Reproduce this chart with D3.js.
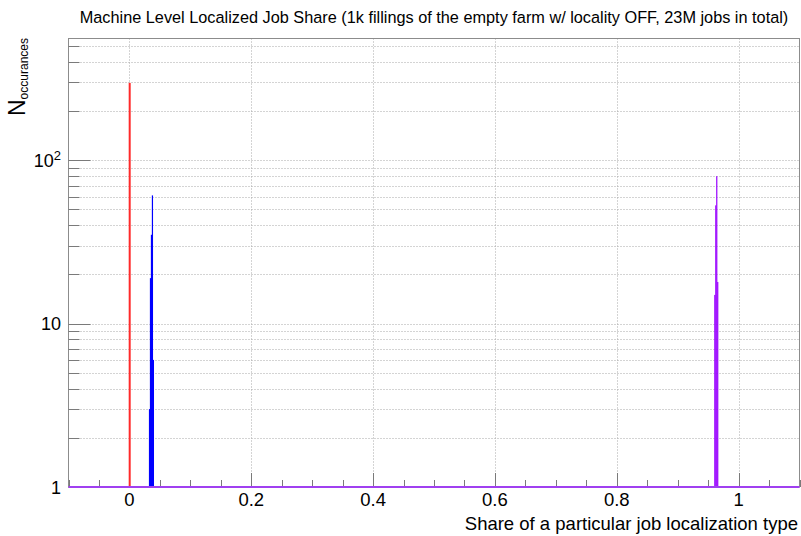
<!DOCTYPE html>
<html><head><meta charset="utf-8">
<script src="https://cdn.jsdelivr.net/npm/d3@7"></script>
<style>body{margin:0;background:#fff}svg{display:block;font-family:"Liberation Sans",Arial,sans-serif}</style>
</head><body><svg id="c" width="801" height="536"></svg>
<script>
const title = "Machine Level Localized Job Share (1k fillings of the empty farm w/ locality OFF, 23M jobs in total)";
const xTitle = "Share of a particular job localization type";
const binWidth = 0.0016;
// red series: bin low edges and counts
const redX = [-0.0012];
const redN = [298];
// blue series
const blueX = [0.0320, 0.0336, 0.0352, 0.0368, 0.0384];
const blueN = [3, 19, 35, 61, 6];
// violet series
const violetX = [0.9600, 0.9616, 0.9632, 0.9648];
const violetN = [15, 53, 80, 18];
const xTicks = [0, 0.2, 0.4, 0.6, 0.8, 1];
const xTickLabels = ["0", "0.2", "0.4", "0.6", "0.8", "1"];
const yMajor = [1, 10, 100];

const svg = d3.select("#c");
const L = 68.5, R = 799.5, T = 38.5, B = 487;
const x = d3.scaleLinear().domain([-0.1, 1.1]).range([L, R]);
const y = d3.scaleLog().domain([1, 557]).range([B, T]);

// grid
const yAll = [];
for (let d = 1; d <= 100; d *= 10) for (let k = 1; k <= 9; k++) { const v = d * k; if (v <= 557) yAll.push(v); }
const grid = svg.append("g").attr("stroke", "#a8a8a8").attr("stroke-dasharray", "1,2").attr("stroke-width", 1);
grid.selectAll("line.gy").data(yAll.filter(v => v > 1)).enter().append("line")
  .attr("x1", L).attr("x2", R).attr("y1", d => Math.round(y(d)) + 0.5).attr("y2", d => Math.round(y(d)) + 0.5);
grid.selectAll("line.gx").data(xTicks).enter().append("line")
  .attr("x1", d => Math.round(x(d)) + 0.5).attr("x2", d => Math.round(x(d)) + 0.5).attr("y1", T).attr("y2", B);

// frame
svg.append("rect").attr("x", L).attr("y", T).attr("width", R - L).attr("height", B - T)
  .attr("fill", "none").attr("stroke", "#8c8c8c").attr("stroke-width", 1);

// y ticks
const yt = svg.append("g").attr("stroke", "#7a7a7a").attr("stroke-width", 1);
yt.selectAll("line").data(yAll).enter().append("line")
  .attr("x1", L).attr("x2", d => L + (yMajor.includes(d) ? 22 : 11))
  .attr("y1", d => Math.round(y(d)) + 0.5).attr("y2", d => Math.round(y(d)) + 0.5);

// x ticks
const xMinor = d3.range(-0.1, 1.1001, 0.05).map(v => +v.toFixed(3));
const xt = svg.append("g").attr("stroke", "#7a7a7a").attr("stroke-width", 1);
xt.selectAll("line").data(xMinor).enter().append("line")
  .attr("x1", d => Math.round(x(d)) + 0.5).attr("x2", d => Math.round(x(d)) + 0.5)
  .attr("y1", B).attr("y2", d => B - (Math.abs(Math.round(d * 10) - d * 10) < 1e-6 && Math.round(d * 10) % 2 === 0 ? 14 : 7));

// histograms
function hist(xs, ns, color, minW) {
  svg.append("g").selectAll("rect").data(xs.map((v, i) => ({ x0: v, n: ns[i] }))).enter().append("rect")
    .attr("x", d => x(d.x0)).attr("width", d => Math.max(minW, x(d.x0 + binWidth) - x(d.x0)))
    .attr("y", d => y(d.n)).attr("height", d => B - y(d.n)).attr("fill", color);
}
hist(redX, redN, "#ff2a2a", 2);
hist(blueX, blueN, "#0000ff", 1.2);
hist(violetX, violetN, "#9900ff", 1.2);

// bottom baseline (histogram at zero level)
svg.append("line").attr("x1", L).attr("x2", R).attr("y1", B).attr("y2", B)
  .attr("stroke", "#a040f0").attr("stroke-width", 2);

// y labels
const yl = svg.append("g").attr("font-size", 18).attr("fill", "#000").attr("text-anchor", "end");
yl.append("text").attr("x", 61).attr("y", y(1) + 6.5).text("1");
yl.append("text").attr("x", 61).attr("y", y(10) + 6.5).text("10");
const t100 = yl.append("text").attr("x", 61).attr("y", y(100) + 6.5);
t100.append("tspan").text("10");
t100.append("tspan").attr("font-size", 13).attr("dy", -7).text("2");

// x labels
svg.append("g").attr("font-size", 18.5).attr("text-anchor", "middle").selectAll("text")
  .data(xTicks).enter().append("text").attr("x", d => x(d)).attr("y", 506).text((d, i) => xTickLabels[i]);

// axis titles
svg.append("text").attr("x", 798).attr("y", 530).attr("text-anchor", "end").attr("font-size", 18.5).text(xTitle);
const yTitle = svg.append("text").attr("transform", "translate(25,38) rotate(-90)").attr("text-anchor", "end");
yTitle.append("tspan").attr("font-size", 23).text("N");
yTitle.append("tspan").attr("font-size", 12).attr("dy", 3).text("occurances");

// title
svg.append("text").attr("x", 434).attr("y", 23).attr("text-anchor", "middle").attr("font-size", 16.3).text(title);
</script></body></html>
